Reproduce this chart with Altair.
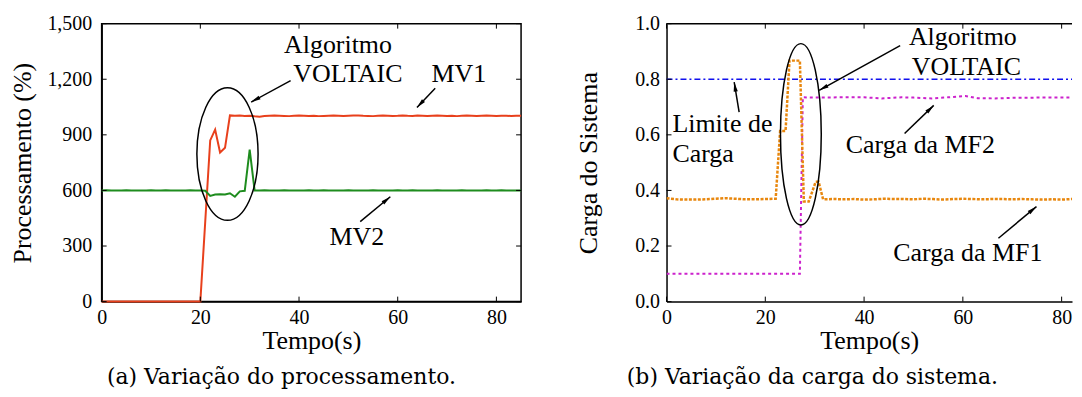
import math
import altair as alt
import pandas as pd

# ---------------- Panel (a): processing ----------------
A_T = list(range(0, 86))
MV1 = ([0] * 21 +
       [435, 870, 928, 805, 830, 1005] +
       [1003, 1004, 1002, 1003, 1000, 998, 1002, 1003, 1004, 1003,
        1002, 1001, 1003, 1004, 1003, 1002, 1003, 1001, 1002, 1003,
        1004, 1003, 1002, 1003, 1004, 1005, 1003, 1002, 1001, 1003,
        1004, 1003, 1002, 1003, 1005, 1003, 1002, 1004, 1003, 1002,
        1003, 1004, 1003, 1002, 1003, 1001, 1003, 1004, 1003, 1002,
        1003, 1004, 1003, 1002, 1003, 1003, 1002, 1003, 1003])
MV2 = ([600, 601, 600, 599, 600, 601, 600, 600, 599, 600, 601,
        600, 600, 601, 600, 599, 600, 600, 601, 600, 600, 598] +
       [570, 578, 579, 578, 585, 566, 595, 598, 820, 600] +
       [600, 601, 600, 599, 600, 601, 600, 600, 599, 600,
        601, 600, 600, 601, 600, 599, 600, 600, 601, 600,
        600, 599, 600, 601, 600, 600, 599, 600, 601, 600,
        600, 601, 600, 599, 600, 600, 601, 600, 600, 599,
        600, 601, 600, 600, 599, 600, 601, 600, 600, 601,
        600, 600, 599, 600])
A_XTICKS = [0, 20, 40, 60, 80]
A_YTICKS = [0, 300, 600, 900, 1200, 1500]
A_TEXT = ["Algoritmo", "VOLTAIC", "MV1", "MV2"]
A_TEXT_T = [47.9, 49.9, 72.4, 51.7]
A_TEXT_V = [1382, 1226, 1226, 349]
A_ARR_T1 = [38.3, 67.6, 52.4]
A_ARR_V1 = [1193, 1152, 432]
A_ARR_T2 = [30.3, 63.9, 58.5]
A_ARR_V2 = [1077, 1047, 566]
A_ELL_T = [25.5]
A_ELL_V = [796]

# ---------------- Panel (b): system load ----------------
LIM_T = [0, 85]
LIM_V = [0.8, 0.8]
MF1_T = [0, 2, 4, 6, 8, 10, 12, 14, 16, 18, 20, 22.1, 23.0, 24.1, 24.9, 27.0,
         27.8, 28.8, 30.2, 30.8, 31.7, 34, 36, 38, 40, 42, 44, 46, 48, 50, 52,
         54, 56, 58, 60, 62, 64, 66, 68, 70, 72, 74, 76, 78, 80, 82, 84, 85]
MF1_V = [0.372, 0.368, 0.367, 0.367, 0.368, 0.370, 0.372, 0.370, 0.368, 0.368,
         0.369, 0.370, 0.614, 0.614, 0.867, 0.867, 0.360, 0.360, 0.431, 0.431,
         0.368, 0.369, 0.368, 0.369, 0.367, 0.368, 0.370, 0.369, 0.369, 0.368,
         0.370, 0.369, 0.367, 0.369, 0.370, 0.369, 0.368, 0.369, 0.369, 0.368,
         0.369, 0.368, 0.367, 0.368, 0.367, 0.369, 0.372, 0.372]
MF2_T = [0, 27.0, 27.6, 30, 35, 40, 43.6, 47.6, 50, 53.7, 57, 60.5, 63, 66.5,
         70, 75, 80, 85]
MF2_V = [0.1, 0.1, 0.735, 0.734, 0.735, 0.735, 0.731, 0.735, 0.734, 0.731,
         0.735, 0.740, 0.732, 0.731, 0.733, 0.734, 0.734, 0.735]
B_XTICKS = [0, 20, 40, 60, 80]
B_YTICKS = [0, 0.2, 0.4, 0.6, 0.8, 1.0]
B_TEXT_C = ["Algoritmo", "VOLTAIC", "Carga da MF2", "Carga da MF1"]
B_TEXT_C_T = [60.0, 60.7, 51.4, 61.0]
B_TEXT_C_V = [0.951, 0.843, 0.563, 0.175]
B_TEXT_L = ["Limite de", "Carga"]
B_TEXT_L_T = [1.2, 1.2]
B_TEXT_L_V = [0.638, 0.532]
B_ARR_T1 = [47.3, 14.7, 48.2, 67.2]
B_ARR_V1 = [0.921, 0.682, 0.605, 0.228]
B_ARR_T2 = [30.9, 13.7, 54.1, 74.9]
B_ARR_V2 = [0.760, 0.790, 0.706, 0.342]
B_ELL_T = [27.2]
B_ELL_V = [0.602]

# ---------------- styling ----------------
FONT = "Liberation Serif"
CAP_FONT = "DejaVu Serif"
RED = "#e8401c"
GREEN = "#1e8c1e"
ORANGE = "#e8870e"
MAGENTA = "#cc22cc"
BLUE = "#1010ee"

AW, AH = 421, 279
BW, BH = 407, 279
A_XMAX, A_YMAX = 85, 1500
B_XMAX, B_YMAX = 82.1, 1.0

HEAD = "M0,0L0.35,1.6L-0.35,1.6Z"
ELL_A = "M-0.462,0A0.462,1 0 1,0 0.462,0A0.462,1 0 1,0 -0.462,0Z"
ELL_B = "M-0.225,0A0.225,1 0 1,0 0.225,0A0.225,1 0 1,0 -0.225,0Z"


def make_x(xmax, ticks):
    return alt.X("t:Q", scale=alt.Scale(domain=[0, xmax], nice=False, zero=False),
                 axis=alt.Axis(values=ticks, format="d", title="Tempo(s)",
                               labelPadding=6, titlePadding=0))


def arrow_layers(t1, v1, t2, v2, X, Y, sx, sy):
    shaft = alt.Chart(pd.DataFrame({"t": t1, "v": v1, "t2": t2, "v2": v2})).mark_rule(
        color="black", strokeWidth=1.5).encode(x=X, y=Y, x2="t2:Q", y2="v2:Q")
    ang = [math.degrees(math.atan2((b - a) * sx, (d - c) * sy)) % 360
           for a, b, c, d in zip(t1, t2, v1, v2)]
    head = alt.Chart(pd.DataFrame({"t": t2, "v": v2, "ang": ang})).mark_point(
        shape=HEAD, size=144, filled=True, color="black", opacity=1).encode(
        x=X, y=Y, angle=alt.Angle("ang:Q", scale=None))
    return [shaft, head]


def frame_ticks(xt, yt, X, Y, W, H, right=True):
    out = []
    ydf = pd.DataFrame({"v": yt})
    xdf = pd.DataFrame({"t": xt})
    out.append(alt.Chart(ydf).mark_rule(color="black", strokeWidth=1).encode(
        y=Y, x=alt.value(0), x2=alt.value(5)))
    if right:
        out.append(alt.Chart(ydf).mark_rule(color="black", strokeWidth=1).encode(
            y=Y, x=alt.value(W - 5), x2=alt.value(W)))
    out.append(alt.Chart(xdf).mark_rule(color="black", strokeWidth=1).encode(
        x=X, y=alt.value(H - 5), y2=alt.value(H)))
    out.append(alt.Chart(xdf).mark_rule(color="black", strokeWidth=1).encode(
        x=X, y=alt.value(0), y2=alt.value(5)))
    return out


# ---------------- panel (a) ----------------
XA = make_x(A_XMAX, A_XTICKS)
YA = alt.Y("v:Q", scale=alt.Scale(domain=[0, A_YMAX], nice=False),
           axis=alt.Axis(values=A_YTICKS, format=",d", title="Processamento (%)",
                         labelPadding=10, titlePadding=11))

a_layers = [
    alt.Chart(pd.DataFrame({"t": A_T, "v": MV1})).mark_line(
        color=RED, strokeWidth=2).encode(x=XA, y=YA),
    alt.Chart(pd.DataFrame({"t": A_T, "v": MV2})).mark_line(
        color=GREEN, strokeWidth=2).encode(x=XA, y=YA),
    alt.Chart(pd.DataFrame({"t": A_ELL_T, "v": A_ELL_V})).mark_point(
        shape=ELL_A, size=17689, filled=False, stroke="black", strokeWidth=1.5,
        opacity=1).encode(x=XA, y=YA),
    alt.Chart(pd.DataFrame({"t": A_TEXT_T, "v": A_TEXT_V, "label": A_TEXT})).mark_text(
        font=FONT, fontSize=26, align="center", baseline="middle", color="black").encode(
        x=XA, y=YA, text="label:N"),
]
a_layers += arrow_layers(A_ARR_T1, A_ARR_V1, A_ARR_T2, A_ARR_V2, XA, YA,
                         AW / A_XMAX, AH / A_YMAX)
a_layers += frame_ticks(A_XTICKS, A_YTICKS, XA, YA, AW, AH, right=True)

panel_a = alt.layer(*a_layers).properties(
    width=AW, height=AH,
    view=alt.ViewBackground(stroke="black", strokeWidth=1.5),
    title=alt.TitleParams("(a) Variação do processamento.", orient="bottom",
                          anchor="middle", frame="bounds", font=CAP_FONT,
                          fontSize=22, fontWeight="normal", color="black",
                          offset=14, dx=14))

# ---------------- panel (b) ----------------
XB = make_x(B_XMAX, B_XTICKS)
YB = alt.Y("v:Q", scale=alt.Scale(domain=[0, B_YMAX], nice=False),
           axis=alt.Axis(values=B_YTICKS, format=".1f", title="Carga do Sistema",
                         labelPadding=7, titlePadding=33))

b_layers = [
    alt.Chart(pd.DataFrame({"t": LIM_T, "v": LIM_V})).mark_line(
        color=BLUE, strokeWidth=1.5, strokeDash=[6, 3, 2, 3], clip=True).encode(x=XB, y=YB),
    alt.Chart(pd.DataFrame({"t": MF2_T, "v": MF2_V})).mark_line(
        color=MAGENTA, strokeWidth=2, strokeDash=[3, 3], clip=True).encode(x=XB, y=YB),
    alt.Chart(pd.DataFrame({"t": MF1_T, "v": MF1_V})).mark_line(
        color=ORANGE, strokeWidth=2.5, strokeDash=[3, 1.5], clip=True).encode(x=XB, y=YB),
    alt.Chart(pd.DataFrame({"t": B_ELL_T, "v": B_ELL_V})).mark_point(
        shape=ELL_B, size=33124, filled=False, stroke="black", strokeWidth=1.5,
        opacity=1).encode(x=XB, y=YB),
    alt.Chart(pd.DataFrame({"t": B_TEXT_C_T, "v": B_TEXT_C_V, "label": B_TEXT_C})).mark_text(
        font=FONT, fontSize=26, align="center", baseline="middle", color="black").encode(
        x=XB, y=YB, text="label:N"),
    alt.Chart(pd.DataFrame({"t": B_TEXT_L_T, "v": B_TEXT_L_V, "label": B_TEXT_L})).mark_text(
        font=FONT, fontSize=26, align="left", baseline="middle", color="black").encode(
        x=XB, y=YB, text="label:N"),
    alt.Chart(pd.DataFrame({"t": [0]})).mark_rule(color="black", strokeWidth=1.5).encode(
        x=alt.value(0), x2=alt.value(BW), y=alt.value(0)),
]
b_layers += arrow_layers(B_ARR_T1, B_ARR_V1, B_ARR_T2, B_ARR_V2, XB, YB,
                         BW / B_XMAX, BH / B_YMAX)
b_layers += frame_ticks(B_XTICKS, B_YTICKS, XB, YB, BW, BH, right=False)

panel_b = alt.layer(*b_layers).properties(
    width=BW, height=BH,
    view=alt.ViewBackground(stroke="transparent"),
    title=alt.TitleParams("(b) Variação da carga do sistema.", orient="bottom",
                          anchor="middle", frame="bounds", font=CAP_FONT,
                          fontSize=22, fontWeight="normal", color="black",
                          offset=14, dx=-12))

chart = alt.hconcat(panel_a, panel_b, spacing=49).properties(
    padding={"left": 1, "top": 4, "right": 0, "bottom": 0}
).configure_axis(
    labelFont=FONT, labelFontSize=20, titleFont=FONT, titleFontSize=26,
    titleFontWeight="normal", labelColor="black", titleColor="black",
    ticks=False, grid=False, domain=True, domainColor="black", domainWidth=1.5,
    labelFlush=False
)

chart.save("out.html", embed_options={"renderer": "svg", "actions": False})
